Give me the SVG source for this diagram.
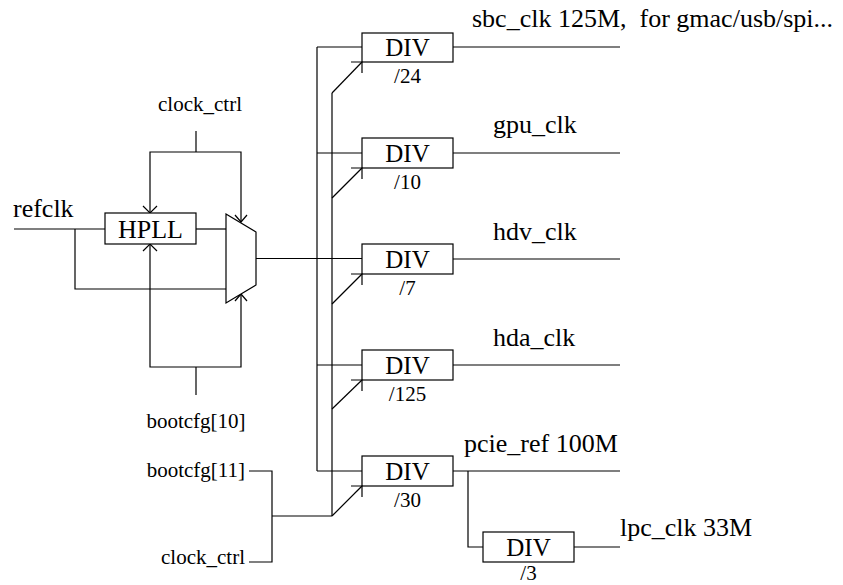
<svg xmlns="http://www.w3.org/2000/svg" width="843" height="585" viewBox="0 0 843 585">
<style>
.w{fill:none;stroke:#000;stroke-width:1.2}
.b{fill:#fff;stroke:#000;stroke-width:1.2}
.t{font-family:"Liberation Serif","Times New Roman",serif;fill:#000}
.L{font-size:26px}
.D{font-size:25px}
.S{font-size:21px}
.m{text-anchor:middle}
.e{text-anchor:end}
</style>
<rect width="843" height="585" fill="#fff"/>
<g id="connectors" class="w">
  <path d="M14,229 H105"/>
  <path d="M75,229 V289 H226"/>
  <path d="M196,229 H226"/>
  <path d="M196,131 V152"/>
  <path d="M150,213 V152 H241 V222"/>
  <path d="M143,206 L150,213 L157,206"/>
  <path d="M235,215 L241,222 L247,215"/>
  <path d="M196,395 V367"/>
  <path d="M150,244 V367 H241 V294"/>
  <path d="M143,251 L150,244 L157,251"/>
  <path d="M235,301 L241,294 L247,301"/>
  <path d="M256,258.5 H362"/>
  <path d="M317,47 V471"/>
  <path d="M317,47 H362"/>
  <path d="M317,153 H362"/>
  <path d="M317,365 H362"/>
  <path d="M317,471 H362"/>
  <path d="M332,93 V516"/>
  <path d="M332,93 L362,62"/>
  <path d="M332,198 L362,168"/>
  <path d="M332,304 L362,274"/>
  <path d="M332,409 L362,380"/>
  <path d="M332,516 L362,486"/>
  <path d="M249,471 H272 V562 H249"/>
  <path d="M272,516 H332"/>
  <path d="M453,47 H620"/>
  <path d="M453,153 H620"/>
  <path d="M453,259 H620"/>
  <path d="M453,365 H620"/>
  <path d="M453,471 H620"/>
  <path d="M468,471 V547 H483"/>
  <path d="M574,547 H620"/>
</g>
<g id="hpll">
  <rect class="b" x="105" y="213" width="91" height="31"/>
  <text class="t m" x="150.5" y="238" font-size="26">HPLL</text>
</g>
<g id="mux">
  <path class="b" d="M226,214 L256,232 V285 L226,303 Z"/>
</g>
<g id="div24">
  <rect class="b" x="362" y="33" width="91" height="29"/>
  <path class="w" d="M351,62 H362 V73"/>
  <text class="t D m" x="407.5" y="56">DIV</text>
  <text class="t S m" x="407.5" y="83">/24</text>
</g>
<g id="div10">
  <rect class="b" x="362" y="138" width="91" height="30"/>
  <path class="w" d="M351,168 H362 V179"/>
  <text class="t D m" x="407.5" y="162">DIV</text>
  <text class="t S m" x="407.5" y="189">/10</text>
</g>
<g id="div7">
  <rect class="b" x="362" y="244" width="91" height="30"/>
  <path class="w" d="M351,274 H362 V285"/>
  <text class="t D m" x="407.5" y="268">DIV</text>
  <text class="t S m" x="407.5" y="295">/7</text>
</g>
<g id="div125">
  <rect class="b" x="362" y="350" width="91" height="30"/>
  <path class="w" d="M351,380 H362 V391"/>
  <text class="t D m" x="407.5" y="374">DIV</text>
  <text class="t S m" x="407.5" y="401">/125</text>
</g>
<g id="div30">
  <rect class="b" x="362" y="456" width="91" height="30"/>
  <path class="w" d="M351,486 H362 V497"/>
  <text class="t D m" x="407.5" y="480">DIV</text>
  <text class="t S m" x="407.5" y="507">/30</text>
</g>
<g id="div3">
  <rect class="b" x="483" y="532" width="91" height="30"/>
  <text class="t D m" x="528.5" y="556">DIV</text>
  <text class="t S m" x="528.5" y="580">/3</text>
</g>
<g id="labels">
  <text class="t L" x="13" y="217">refclk</text>
  <text class="t S m" x="200" y="111">clock_ctrl</text>
  <text class="t S m" x="196" y="428">bootcfg[10]</text>
  <text class="t S e" x="245" y="477">bootcfg[11]</text>
  <text class="t S e" x="245" y="564">clock_ctrl</text>
  <text class="t L" x="472" y="27" xml:space="preserve">sbc_clk 125M,  for gmac/usb/spi...</text>
  <text class="t L" x="493" y="133">gpu_clk</text>
  <text class="t L" x="493" y="240">hdv_clk</text>
  <text class="t L" x="493" y="346">hda_clk</text>
  <text class="t L" x="464" y="452">pcie_ref 100M</text>
  <text class="t L" x="620" y="536">lpc_clk 33M</text>
</g>
</svg>
